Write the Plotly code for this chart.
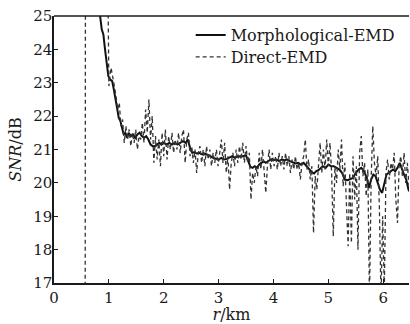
import plotly.graph_objects as go

# Morphological-EMD (solid)
morph_r = [0.80, 0.84, 0.87, 0.90, 0.93, 0.96, 0.99, 1.02, 1.06, 1.09, 1.12, 1.15, 1.18, 1.21, 1.24, 1.27,
           1.30, 1.33, 1.36, 1.40, 1.44, 1.48, 1.52, 1.56, 1.60, 1.64, 1.68, 1.72, 1.76, 1.80, 1.84, 1.88,
           1.92, 1.96, 2.00, 2.05, 2.10, 2.15, 2.20, 2.25, 2.30, 2.35, 2.40, 2.44, 2.48, 2.52, 2.56, 2.60,
           2.65, 2.70, 2.75, 2.80, 2.85, 2.90, 2.95, 3.00, 3.05, 3.10, 3.15, 3.20, 3.25, 3.30, 3.35, 3.40,
           3.45, 3.50, 3.54, 3.58, 3.62, 3.66, 3.70, 3.74, 3.78, 3.82, 3.86, 3.90, 3.95, 4.00, 4.05, 4.10,
           4.15, 4.20, 4.25, 4.30, 4.35, 4.40, 4.45, 4.50, 4.55, 4.60, 4.65, 4.70, 4.74, 4.78, 4.82, 4.86,
           4.90, 4.95, 5.00, 5.05, 5.10, 5.15, 5.20, 5.25, 5.30, 5.35, 5.40, 5.45, 5.50, 5.55, 5.60, 5.65,
           5.70, 5.74, 5.78, 5.82, 5.86, 5.90, 5.94, 5.98, 6.02, 6.06, 6.10, 6.14, 6.18, 6.22, 6.26, 6.30,
           6.34, 6.38, 6.42, 6.46, 6.50]
morph_snr = [26.0, 25.0, 24.6, 24.45, 24.0, 23.5, 23.2, 23.1, 23.05, 22.8, 22.5, 22.2, 21.95, 21.85, 21.6, 21.45,
             21.5, 21.35, 21.5, 21.4, 21.45, 21.35, 21.45, 21.5, 21.4, 21.35, 21.4, 21.3, 21.15, 21.1, 21.1, 21.15,
             21.2, 21.15, 21.2, 21.15, 21.2, 21.15, 21.2, 21.15, 21.2, 21.25, 21.2, 21.3, 21.05, 20.9, 20.92, 20.88,
             20.9, 20.85, 20.88, 20.85, 20.8, 20.75, 20.73, 20.7, 20.75, 20.7, 20.72, 20.75, 20.8, 20.75, 20.8, 20.78,
             20.8, 20.82, 20.65, 20.48, 20.45, 20.5, 20.45, 20.55, 20.6, 20.65, 20.6, 20.65, 20.7, 20.68, 20.7, 20.65,
             20.7, 20.68, 20.7, 20.65, 20.62, 20.58, 20.6, 20.55, 20.6, 20.5, 20.4, 20.32, 20.28, 20.35, 20.38, 20.45,
             20.5, 20.45, 20.55, 20.5, 20.5, 20.45, 20.4, 20.3, 20.1, 20.08, 20.12, 20.15, 20.3, 20.4, 20.45, 20.35,
             20.15, 19.85, 20.1, 20.25, 20.2, 20.0, 19.8, 19.7, 19.95, 20.25, 20.3, 20.35, 20.4, 20.35, 20.45, 20.6,
             20.4, 20.25, 20.1, 19.8, 19.7]

# Direct-EMD (dashed)
direct_r = [0.565, 0.575, 0.96, 1.00, 1.04, 1.07, 1.10, 1.13, 1.16, 1.19, 1.22, 1.25, 1.28, 1.31, 1.34, 1.37,
            1.40, 1.43, 1.46, 1.49, 1.52, 1.55, 1.58, 1.61, 1.64, 1.67, 1.70, 1.73, 1.76, 1.79, 1.82, 1.85,
            1.88, 1.91, 1.94, 1.97, 2.00, 2.03, 2.06, 2.09, 2.12, 2.15, 2.18, 2.21, 2.24, 2.27, 2.30, 2.33,
            2.36, 2.39, 2.42, 2.45, 2.48, 2.51, 2.54, 2.57, 2.60, 2.63, 2.66, 2.69, 2.72, 2.75, 2.78, 2.81,
            2.84, 2.87, 2.90, 2.93, 2.96, 2.99, 3.02, 3.05, 3.08, 3.11, 3.14, 3.17, 3.20, 3.23, 3.26, 3.29,
            3.32, 3.35, 3.38, 3.41, 3.44, 3.47, 3.50, 3.53, 3.56, 3.59, 3.62, 3.65, 3.68, 3.71, 3.74, 3.77,
            3.80, 3.83, 3.86, 3.89, 3.92, 3.95, 3.98, 4.01, 4.04, 4.07, 4.10, 4.13, 4.16, 4.19, 4.22, 4.25,
            4.28, 4.31, 4.34, 4.37, 4.40, 4.43, 4.46, 4.49, 4.52, 4.55, 4.58, 4.61, 4.64, 4.67, 4.70, 4.73,
            4.76, 4.79, 4.82, 4.85, 4.88, 4.91, 4.94, 4.97, 5.00, 5.03, 5.06, 5.09, 5.12, 5.15, 5.18, 5.21,
            5.24, 5.27, 5.30, 5.33, 5.36, 5.39, 5.42, 5.45, 5.48, 5.51, 5.54, 5.57, 5.60, 5.63, 5.66, 5.69,
            5.72, 5.75, 5.78, 5.81, 5.84, 5.87, 5.90, 5.93, 5.96, 5.99, 6.02, 6.05, 6.08, 6.11, 6.14, 6.17,
            6.20, 6.23, 6.26, 6.29, 6.32, 6.35, 6.38, 6.41, 6.44, 6.47]
direct_snr = [10.0, 30.0, 30.0, 22.9, 23.45, 23.1, 22.9, 22.6, 22.2, 22.4, 21.7, 21.9, 21.2, 21.7, 21.3, 21.6,
              21.1, 21.5, 21.2, 21.6, 21.0, 21.4, 21.3, 21.8, 21.2, 22.2, 21.5, 22.5, 21.3, 22.0, 20.6, 21.4,
              20.7, 21.3, 20.5, 21.5, 20.8, 21.6, 20.7, 21.4, 21.0, 21.5, 20.9, 21.3, 21.0, 21.5, 20.9, 21.4,
              21.6, 20.6, 21.3, 21.5, 20.8, 21.1, 20.6, 21.0, 20.3, 20.9, 21.1, 20.6, 21.0, 20.5, 21.1, 20.7,
              21.0, 20.5, 20.9, 20.6, 21.0, 20.5, 20.9, 21.3, 20.6, 21.2, 20.3, 20.8, 19.8, 20.6, 20.9, 20.5,
              21.0, 20.6, 21.1, 20.7, 21.2, 20.6, 21.1, 20.6, 20.9, 19.5, 20.3, 20.0, 20.5, 20.2, 20.9, 20.4,
              21.0, 20.2, 19.7, 20.5, 21.0, 20.4, 20.9, 20.5, 20.8, 20.4, 20.9, 20.5, 20.8, 20.4, 20.9, 20.5,
              20.8, 20.3, 20.7, 20.4, 20.8, 20.4, 20.6, 20.1, 20.6, 20.8, 21.3, 20.4, 20.7, 20.1, 20.5, 18.5,
              20.2, 19.8, 20.6, 21.2, 20.3, 21.0, 20.4, 21.3, 20.5, 21.2, 20.3, 18.4, 20.5, 20.0, 21.0, 20.4,
              21.3, 19.9, 20.6, 19.3, 18.1, 20.3, 18.2, 20.8, 19.5, 20.5, 18.0, 20.9, 21.4, 20.2, 20.6, 19.6,
              20.4, 16.5, 20.1, 21.7, 20.6, 20.2, 20.8, 19.3, 16.5, 19.0, 16.8, 20.3, 20.7, 20.1, 20.6, 20.4,
              20.9, 19.5, 18.8, 20.5, 20.8, 20.2, 20.9, 20.0, 20.6, 19.9]

x_ticks = [0, 1, 2, 3, 4, 5, 6]
y_ticks = [17, 18, 19, 20, 21, 22, 23, 24, 25]

FONT = "DejaVu Serif"
INK = "#1a1a1a"

fig = go.Figure()
fig.add_trace(go.Scatter(x=morph_r, y=morph_snr, mode="lines", name="Morphological-EMD",
                         line=dict(color="#111111", width=2), legend="legend"))
fig.add_trace(go.Scatter(x=direct_r, y=direct_snr, mode="lines", name="Direct-EMD",
                         line=dict(color="#333333", width=1.3, dash="4px,3px"), legend="legend2"))

leg_common = dict(xanchor="left", yanchor="middle", bgcolor="rgba(0,0,0,0)",
                  font=dict(family=FONT, size=16, color=INK), itemwidth=30,
                  borderwidth=0)

fig.update_layout(
    width=410, height=324,
    margin=dict(l=54, r=1, t=16, b=41, autoexpand=False),
    paper_bgcolor="white", plot_bgcolor="white",
    font=dict(family=FONT, size=15, color=INK),
    showlegend=True,
    legend=dict(x=0.385, y=1 - (35 - 16) / 267, **leg_common),
    legend2=dict(x=0.385, y=1 - (57 - 16) / 267, **leg_common),
    xaxis=dict(range=[0, 6.47], tickvals=x_ticks, ticktext=[str(v) for v in x_ticks],
               ticks="inside", ticklen=4, tickcolor=INK, showline=True, linecolor=INK,
               linewidth=1.5, mirror=False, showgrid=False, zeroline=False, automargin=False,
               tickfont=dict(family=FONT, size=15),
               title=dict(text="<i>r</i>/km", standoff=8, font=dict(family=FONT, size=16))),
    yaxis=dict(range=[17, 25], tickvals=y_ticks, ticktext=[str(v) for v in y_ticks],
               ticks="inside", ticklen=4, tickcolor=INK, showline=True, linecolor=INK,
               linewidth=1.5, mirror=False, showgrid=False, zeroline=False, automargin=False,
               tickfont=dict(family=FONT, size=15), ticklabelstandoff=-3,
               title=dict(text="<i>SNR</i>/dB", standoff=8, font=dict(family=FONT, size=16))),
)
# top frame line
fig.add_shape(type="line", xref="paper", yref="paper", x0=0, x1=1, y0=1, y1=1,
              line=dict(color=INK, width=1.5))

fig.write_html("out.html")
